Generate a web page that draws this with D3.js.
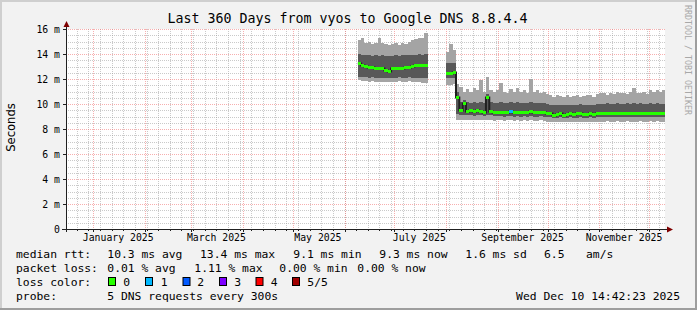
<!DOCTYPE html>
<html><head><meta charset="utf-8">
<script src="https://cdn.jsdelivr.net/npm/d3@7"></script>
<style>html,body{margin:0;padding:0;background:#f2f2f2;}svg{display:block;}</style>
</head><body><svg id="c" width="697" height="310"></svg>
<script>
// ---------- DATA ----------
const title = "Last 360 Days from vyos to Google DNS 8.8.4.4";
const endTime = "2025-12-10T14:42:23Z";
const spanDays = 360;
const stepDays = 2;
const yTickValues = [0, 2, 4, 6, 8, 10, 12, 14, 16];
const yTickLabels = ["0", "2 m", "4 m", "6 m", "8 m", "10 m", "12 m", "14 m", "16 m"];
const monthLabelDates = ["2025-01-01", "2025-03-01", "2025-05-01", "2025-07-01", "2025-09-01", "2025-11-01"];

const sampleDates = [
  "2025-06-09","2025-06-11","2025-06-13","2025-06-15","2025-06-17","2025-06-19","2025-06-21","2025-06-23","2025-06-25","2025-06-27","2025-06-29",
  "2025-07-01","2025-07-03","2025-07-05","2025-07-07","2025-07-09","2025-07-11","2025-07-13","2025-07-15","2025-07-17","2025-07-19",
  "2025-08-01","2025-08-03","2025-08-05","2025-08-07","2025-08-09","2025-08-11","2025-08-13","2025-08-15","2025-08-17","2025-08-19","2025-08-21","2025-08-23","2025-08-25","2025-08-27","2025-08-29","2025-08-31",
  "2025-09-02","2025-09-04","2025-09-06","2025-09-08","2025-09-10","2025-09-12","2025-09-14","2025-09-16","2025-09-18","2025-09-20","2025-09-22","2025-09-24","2025-09-26","2025-09-28","2025-09-30",
  "2025-10-02","2025-10-04","2025-10-06","2025-10-08","2025-10-10","2025-10-12","2025-10-14","2025-10-16","2025-10-18","2025-10-20","2025-10-22","2025-10-24","2025-10-26","2025-10-28","2025-10-30",
  "2025-11-01","2025-11-03","2025-11-05","2025-11-07","2025-11-09","2025-11-11","2025-11-13","2025-11-15","2025-11-17","2025-11-19","2025-11-21","2025-11-23","2025-11-25","2025-11-27","2025-11-29",
  "2025-12-01","2025-12-03","2025-12-05","2025-12-07","2025-12-09"
];
// sorted ping values (ms): ping1 (min) .. ping5 (max)
const ping1 = [
  11.9,11.85,11.85,11.8,11.85,11.8,11.75,11.8,11.8,11.75,11.8,11.8,11.85,11.8,11.8,11.85,11.8,11.75,11.8,11.7,11.7,
  11.5,11.5,11.6,8.7,8.7,8.7,8.75,8.7,8.7,8.7,8.7,8.7,8.7,8.7,8.65,8.7,
  8.7,8.65,8.7,8.7,8.65,8.7,8.65,8.7,8.65,8.7,8.65,8.65,8.7,8.65,8.6,
  8.6,8.6,8.55,8.6,8.6,8.55,8.6,8.6,8.55,8.6,8.6,8.55,8.6,8.6,8.6,
  8.6,8.6,8.65,8.6,8.6,8.65,8.6,8.6,8.65,8.6,8.6,8.6,8.65,8.6,8.6,
  8.65,8.6,8.65,8.6,8.6
];
const ping2 = [
  12.2,12.15,12.15,12.1,12.15,12.1,12.05,12.1,12.05,12.05,12.1,12.1,12.15,12.1,12.1,12.15,12.1,12.1,12.1,12.05,12.05,
  12.05,12.1,12.1,9.2,9.1,9.1,9.1,9.1,9.05,9.1,9.1,9.05,9.1,9.1,9.05,9.05,
  9.05,9.0,9.05,9.05,9.0,9.05,9.0,9.05,9.0,9.05,9.0,9.0,9.05,9.0,8.95,
  8.95,8.9,8.9,8.95,8.9,8.9,8.95,8.9,8.9,8.95,8.9,8.9,8.95,8.9,8.95,
  8.95,8.95,9.0,8.95,8.95,9.0,8.95,8.95,9.0,8.95,8.95,8.95,9.0,8.95,8.95,
  9.0,8.95,9.0,8.95,8.95
];
const median = [
  13.25,13.1,13.05,13.0,12.95,12.9,12.85,12.9,12.75,12.65,12.85,12.9,12.85,12.9,12.95,13.0,13.05,13.1,13.15,13.1,13.1,
  12.45,12.5,12.6,10.6,9.5,10.1,9.45,9.5,9.45,9.5,9.45,9.4,10.6,9.45,9.4,9.4,
  9.4,9.35,9.4,9.45,9.4,9.4,9.35,9.4,9.4,9.45,9.4,9.35,9.4,9.35,9.3,
  9.25,9.15,9.2,9.25,9.15,9.2,9.25,9.2,9.25,9.3,9.2,9.2,9.25,9.2,9.25,
  9.3,9.3,9.3,9.25,9.3,9.3,9.25,9.3,9.3,9.25,9.3,9.25,9.3,9.3,9.25,
  9.3,9.3,9.3,9.3,9.3
];
const ping4 = [
  14.0,13.95,13.9,13.9,13.85,13.9,13.85,13.9,13.85,13.8,13.85,13.9,13.85,13.9,13.9,13.95,13.9,13.95,14.0,13.95,14.0,
  13.3,13.3,13.25,11.0,10.2,10.3,10.15,10.1,10.2,10.1,10.2,10.1,10.8,10.15,10.1,10.1,
  10.15,10.1,10.1,10.15,10.1,10.15,10.1,10.1,10.05,10.2,10.1,10.05,10.1,10.05,10.0,
  9.95,9.95,9.9,9.95,9.9,9.95,9.95,9.9,9.95,10.0,9.9,9.95,9.95,9.9,10.0,
  10.0,10.0,10.05,10.0,10.0,10.05,10.0,10.0,10.05,10.0,10.05,10.0,10.05,10.0,10.0,
  10.05,10.0,10.05,10.0,10.0
];
const ping5 = [
  15.1,15.3,14.9,15.0,14.8,14.9,15.3,14.9,14.8,14.7,14.8,14.9,14.7,14.9,14.8,15.0,15.1,15.2,15.3,15.3,15.7,
  14.2,14.8,14.3,11.6,11.4,11.0,11.2,11.0,11.3,11.1,11.9,11.0,12.2,11.1,11.0,11.1,
  11.7,11.0,10.9,11.2,11.0,11.3,11.0,11.1,10.9,12.0,11.0,11.1,10.9,11.0,10.8,
  10.7,10.6,10.7,10.65,10.6,10.7,10.6,10.65,10.7,10.6,10.65,10.7,10.75,10.6,10.8,
  10.85,10.9,10.75,10.9,10.8,11.0,10.85,10.9,10.8,11.0,11.3,10.85,10.9,11.0,10.8,
  11.1,11.0,11.1,11.0,11.1
];
// lost pings per sample (0..5)
const lostPings = [
  0,0,0,0,0,0,0,0,0,0,0,0,0,0,0,0,0,0,0,0,0,
  0,0,0,0,0,0,0,0,0,0,0,0,0,0,0,0,
  0,0,0,1,0,0,0,0,0,0,0,0,0,0,0,
  0,0,0,0,0,0,0,0,0,0,0,0,0,0,0,
  0,0,0,0,0,0,0,0,0,0,0,0,0,0,0,
  0,0,0,0,0
];
const lossLegendLabels = ["0", "1", "2", "3", "4", "5/5"];
const lossLegendColors = ["#26ff00", "#00b8ff", "#0059ff", "#7e00ff", "#ff0000", "#a10000"];
const rttStats = ["10.3 ms avg", "13.4 ms max", "9.1 ms min", "9.3 ms now", "1.6 ms sd", "6.5", "am/s"];
const lossStats = ["0.01 % avg", "1.11 % max", "0.00 % min", "0.00 % now"];
const probeText = "5 DNS requests every 300s";
const stampText = "Wed Dec 10 14:42:23 2025";
const sideText = "RRDTOOL / TOBI OETIKER";

// ---------- LAYOUT ----------
const W = 697, H = 310;
const L = 66, R = 665, T = 29, B = 229;
const MONO = "DejaVu Sans Mono";
const svg = d3.select("#c");
const parse = d3.utcParse("%Y-%m-%d");
const DAY = 864e5;
const end = new Date(endTime);
const start = new Date(end.getTime() - spanDays * DAY);
const x = d3.scaleUtc().domain([start, end]).range([L, R]);
const y = d3.scaleLinear().domain([0, 16]).range([B, T]);

// background + 3D border
svg.append("rect").attr("width", W).attr("height", H).attr("fill", "#f2f2f2");
svg.append("rect").attr("x", 0).attr("y", 0).attr("width", W).attr("height", 2).attr("fill", "#cfcfcf");
svg.append("rect").attr("x", 0).attr("y", 0).attr("width", 2).attr("height", H).attr("fill", "#cfcfcf");
svg.append("rect").attr("x", 0).attr("y", H - 2).attr("width", W).attr("height", 2).attr("fill", "#9e9e9e");
svg.append("rect").attr("x", W - 2).attr("y", 0).attr("width", 2).attr("height", H).attr("fill", "#9e9e9e");

// canvas
svg.append("rect").attr("x", L).attr("y", T).attr("width", R - L).attr("height", B - T).attr("fill", "#ffffff");
svg.append("clipPath").attr("id", "clip").append("rect").attr("x", L).attr("y", T).attr("width", R - L).attr("height", B - T);

// ---------- GRID (beneath data) ----------
const grid = svg.append("g").attr("shape-rendering", "crispEdges");
const minorCol = "rgba(150,150,150,0.5)", majorCol = "rgba(240,110,110,0.55)";
const minorY = d3.range(0, 16.01, 0.5).filter(v => !yTickValues.includes(v));
grid.selectAll("line.hy").data(minorY).join("line")
  .attr("x1", L).attr("x2", R).attr("y1", v => Math.round(y(v)) + 0.5).attr("y2", v => Math.round(y(v)) + 0.5)
  .attr("stroke", minorCol).attr("stroke-dasharray", "1,1");
const weeks = d3.utcSunday.range(start, end);
grid.selectAll("line.wx").data(weeks).join("line")
  .attr("x1", d => Math.round(x(d)) + 0.5).attr("x2", d => Math.round(x(d)) + 0.5).attr("y1", T).attr("y2", B)
  .attr("stroke", minorCol).attr("stroke-dasharray", "1,1");
grid.selectAll("line.my").data(yTickValues.filter(v => v > 0)).join("line")
  .attr("x1", L).attr("x2", R).attr("y1", v => Math.round(y(v)) + 0.5).attr("y2", v => Math.round(y(v)) + 0.5)
  .attr("stroke", majorCol).attr("stroke-dasharray", "1,1");
const months = d3.utcMonth.range(d3.utcMonth.ceil(start), end);
grid.selectAll("line.mx").data(months).join("line")
  .attr("x1", d => Math.round(x(d)) + 0.5).attr("x2", d => Math.round(x(d)) + 0.5).attr("y1", T).attr("y2", B)
  .attr("stroke", majorCol).attr("stroke-dasharray", "1,1");

// ---------- DATA MARKS ----------
const samples = sampleDates.map((d, i) => ({
  t0: parse(d), t1: new Date(parse(d).getTime() + stepDays * DAY),
  p1: ping1[i], p2: ping2[i], med: median[i], p4: ping4[i], p5: ping5[i], loss: lostPings[i]
}));

const plot = svg.append("g").attr("clip-path", "url(#clip)").attr("shape-rendering", "crispEdges");
const sx0 = d => Math.round(x(d.t0)), sx1 = d => Math.round(x(d.t1));
// outer smoke
plot.selectAll("rect.s1").data(samples).join("rect")
  .attr("x", sx0).attr("width", d => sx1(d) - sx0(d))
  .attr("y", d => Math.round(y(d.p5))).attr("height", d => Math.round(y(d.p1)) - Math.round(y(d.p5)))
  .attr("fill", "#a4a4a4");
// inner smoke
plot.selectAll("rect.s2").data(samples).join("rect")
  .attr("x", sx0).attr("width", d => sx1(d) - sx0(d))
  .attr("y", d => Math.round(y(d.p4))).attr("height", d => Math.round(y(d.p2)) - Math.round(y(d.p4)))
  .attr("fill", "#585858");

// median line (steps), split into segments where data is missing
const segs = [];
samples.forEach((s, i) => {
  if (i === 0 || s.t0 - samples[i - 1].t1 > 0) segs.push([]);
  segs[segs.length - 1].push(s);
});
const stepLine = d3.line().x(p => p[0]).y(p => p[1]).curve(d3.curveStepAfter);
segs.forEach(seg => {
  const pts = seg.map(s => [x(s.t0), Math.round(y(s.med)) + 0.5]);
  const last = seg[seg.length - 1];
  pts.push([x(last.t1), Math.round(y(last.med)) + 0.5]);
  plot.append("path").attr("d", stepLine(pts)).attr("fill", "none")
    .attr("stroke", "#202020").attr("stroke-width", 2).attr("shape-rendering", "auto");
});
// median loss-colour band
plot.selectAll("rect.m").data(samples).join("rect")
  .attr("x", sx0).attr("width", d => sx1(d) - sx0(d))
  .attr("y", d => Math.round(y(d.med)) - 1).attr("height", 3)
  .attr("fill", d => lossLegendColors[d.loss]);

// ---------- AXES ----------
const ax = svg.append("g").attr("shape-rendering", "crispEdges");
ax.append("line").attr("x1", 62).attr("x2", 669).attr("y1", B + 0.5).attr("y2", B + 0.5).attr("stroke", "#202020");
ax.append("line").attr("x1", L + 0.5).attr("x2", L + 0.5).attr("y1", 25).attr("y2", B + 3).attr("stroke", "#202020");
ax.selectAll("line.yt").data(yTickValues).join("line")
  .attr("x1", L - 3).attr("x2", L).attr("y1", v => Math.round(y(v)) + 0.5).attr("y2", v => Math.round(y(v)) + 0.5)
  .attr("stroke", "#202020");
ax.selectAll("line.xt").data(months).join("line")
  .attr("x1", d => Math.round(x(d)) + 0.5).attr("x2", d => Math.round(x(d)) + 0.5).attr("y1", B).attr("y2", B + 3)
  .attr("stroke", "#202020");
ax.selectAll("line.xw").data(weeks).join("line")
  .attr("x1", d => Math.round(x(d)) + 0.5).attr("x2", d => Math.round(x(d)) + 0.5).attr("y1", B).attr("y2", B + 2)
  .attr("stroke", "#202020");
// arrows
svg.append("path").attr("d", `M${L + 0.5},21 L${L - 2.5},27 L${L + 3.5},27 Z`).attr("fill", "#7f0000");
svg.append("path").attr("d", `M673,${B + 0.5} L667,${B - 2.5} L667,${B + 3.5} Z`).attr("fill", "#7f0000");

// tick labels
svg.selectAll("text.yl").data(yTickValues).join("text")
  .attr("x", 60).attr("y", v => y(v) + 3.8).attr("text-anchor", "end")
  .attr("font-family", MONO).attr("font-size", "9.8px").attr("fill", "#000")
  .text((v, i) => yTickLabels[i]);
const fmtMonth = d3.utcFormat("%B %Y");
svg.selectAll("text.xl").data(monthLabelDates.map(parse)).join("text")
  .attr("x", d => x(d3.utcDay.offset(d, 15))).attr("y", 240.5).attr("text-anchor", "middle")
  .attr("font-family", MONO).attr("font-size", "9.8px").attr("fill", "#000")
  .text(d => fmtMonth(d));

// title and axis label
svg.append("text").attr("x", 347.5).attr("y", 23).attr("text-anchor", "middle")
  .attr("font-family", MONO).attr("font-size", "13.3px").attr("fill", "#000").text(title);
svg.append("text").attr("transform", "translate(14.5,127.5) rotate(-90)").attr("text-anchor", "middle")
  .attr("font-family", "DejaVu Sans").attr("font-size", "11.6px").attr("fill", "#000").text("Seconds");
svg.append("text").attr("transform", "translate(685,5) rotate(90)")
  .attr("font-family", MONO).attr("font-size", "8.3px").attr("fill", "#a8a8a8").text(sideText);

// ---------- LEGEND ----------
const lg = svg.append("g").attr("font-family", MONO).attr("font-size", "11.35px").attr("fill", "#000")
  .style("white-space", "pre");
const row = [257.5, 271.5, 285.5, 299.5];
lg.append("text").attr("x", 16).attr("y", row[0]).text("median rtt:");
const rttX = [107.3, 200, 293.3, 379.3, 465.3, 544, 586];
rttStats.forEach((s, i) => lg.append("text").attr("x", rttX[i]).attr("y", row[0]).text(s));
lg.append("text").attr("x", 16).attr("y", row[1]).text("packet loss:");
const lossX = [107.3, 194.3, 279.3, 357.3];
lossStats.forEach((s, i) => lg.append("text").attr("x", lossX[i]).attr("y", row[1]).text(s));
lg.append("text").attr("x", 16).attr("y", row[2]).text("loss color:");
const boxX = [108.5, 145.5, 183, 219.5, 256, 292.5];
const lblX = [123.3, 160.7, 197.3, 234.3, 270.7, 307.3];
lossLegendLabels.forEach((s, i) => {
  lg.append("rect").attr("x", boxX[i]).attr("y", 277.5).attr("width", 7).attr("height", 8)
    .attr("fill", lossLegendColors[i]).attr("stroke", "#000").attr("stroke-width", 1);
  lg.append("text").attr("x", lblX[i]).attr("y", row[2]).text(s);
});
lg.append("text").attr("x", 16).attr("y", row[3]).text("probe:");
lg.append("text").attr("x", 107.3).attr("y", row[3]).text(probeText);
lg.append("text").attr("x", 680).attr("y", row[3]).attr("text-anchor", "end").text(stampText);
</script>
</body></html>
